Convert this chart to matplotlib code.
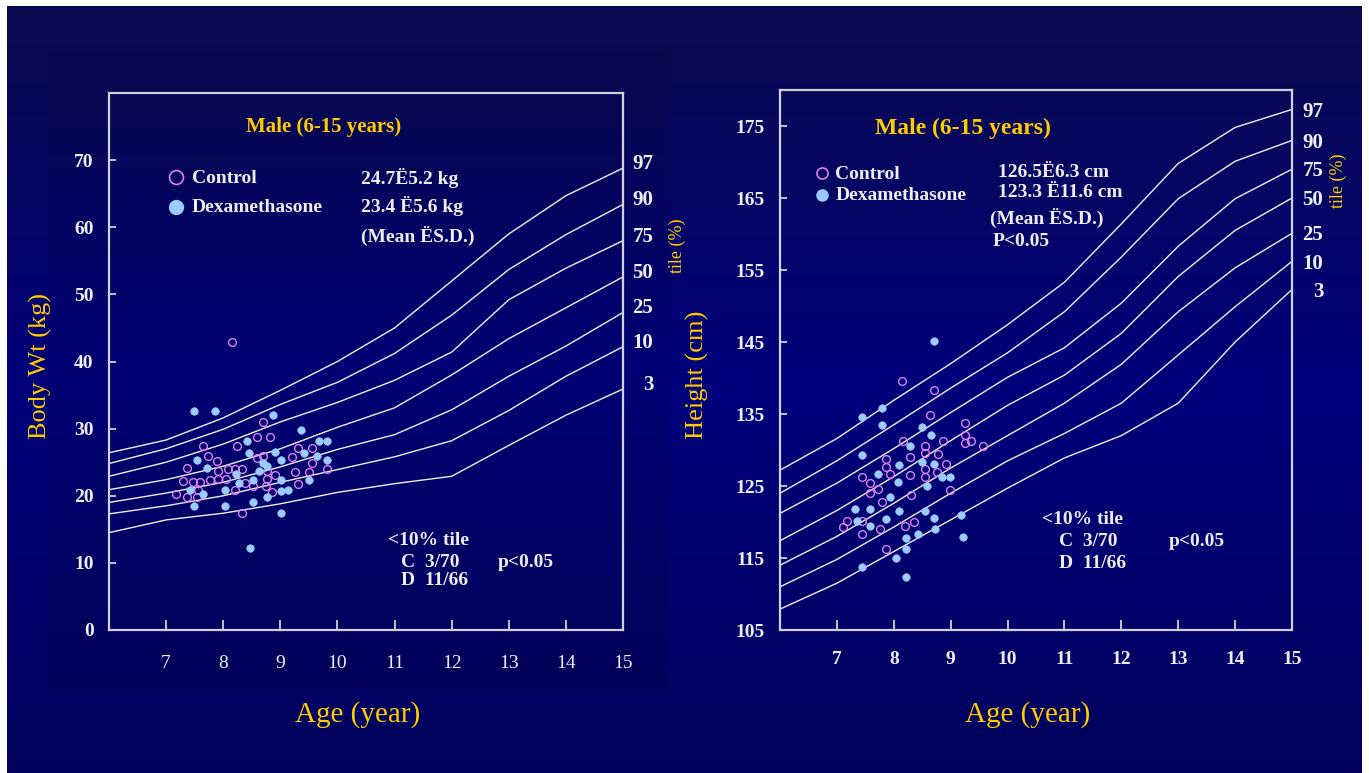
import numpy as np
import matplotlib
matplotlib.use("Agg")
import matplotlib.pyplot as plt

plt.rcParams['font.family'] = ['Liberation Serif', 'DejaVu Serif']

W, H = 1369, 773

# percentile curves (age in years)
ages = [6, 7, 8, 9, 10, 11, 12, 13, 14, 15]
pct_names = ['3', '10', '25', '50', '75', '90', '97']

wt_p3 = [14.5, 16.4, 17.4, 18.8, 20.5, 21.8, 22.9, 27.5, 32.0, 35.9]
wt_p10 = [17.3, 18.5, 20.0, 22.0, 23.9, 25.8, 28.2, 32.7, 37.8, 42.2]
wt_p25 = [19.0, 20.4, 22.0, 24.3, 26.9, 29.1, 32.8, 37.8, 42.3, 47.3]
wt_p50 = [20.9, 22.4, 24.4, 27.0, 30.2, 33.1, 38.0, 43.4, 48.0, 52.6]
wt_p75 = [22.9, 25.0, 27.7, 31.0, 33.9, 37.2, 41.4, 49.2, 53.9, 58.0]
wt_p90 = [24.8, 27.0, 29.9, 33.6, 36.9, 41.2, 46.9, 53.7, 58.9, 63.4]
wt_p97 = [26.4, 28.3, 31.6, 35.7, 40.0, 45.0, 52.0, 59.0, 64.7, 68.8]

ht_p3 = [107.9, 111.5, 115.9, 120.3, 124.7, 128.9, 132.0, 136.5, 145.0, 152.3]
ht_p10 = [111.0, 114.8, 119.3, 124.0, 128.5, 132.3, 136.5, 143.2, 149.9, 156.2]
ht_p25 = [114.0, 118.0, 122.6, 127.5, 132.0, 136.5, 141.9, 149.2, 155.3, 160.1]
ht_p50 = [117.4, 121.6, 126.3, 131.3, 136.2, 140.4, 146.2, 154.1, 160.5, 165.0]
ht_p75 = [121.2, 125.4, 130.2, 135.2, 140.1, 144.2, 150.4, 158.3, 164.9, 169.0]
ht_p90 = [124.0, 128.5, 133.5, 138.6, 143.5, 149.2, 156.8, 164.9, 170.1, 173.0]
ht_p97 = [127.2, 131.6, 136.9, 142.0, 147.4, 153.3, 161.4, 169.8, 174.8, 177.3]

# body weight scatter
wt_ctrl_age = [8.15, 8.70, 8.60, 8.82, 7.65, 8.24, 7.73, 7.89, 7.36, 8.59, 8.70, 8.09,
               8.21, 8.33, 7.90, 8.76, 9.31, 9.55, 9.20, 9.56, 9.25, 9.50, 9.81, 7.29,
               7.47, 7.59, 7.77, 7.90, 8.04, 8.76, 8.90, 8.38, 8.52, 8.75, 9.31, 7.17,
               7.36, 7.54, 7.55, 8.21, 8.86, 8.33]
wt_ctrl = [42.9, 31.0, 28.7, 28.7, 27.4, 27.4, 25.9, 25.2, 24.1, 25.6, 25.9, 24.0,
           24.0, 24.0, 23.7, 23.7, 27.1, 27.1, 25.8, 24.9, 23.6, 23.6, 24.0, 22.2,
           22.0, 22.0, 22.3, 22.5, 22.5, 22.5, 23.1, 21.9, 21.4, 21.5, 21.8, 20.3,
           19.8, 19.8, 20.8, 20.8, 20.6, 17.4]
wt_dex_age = [7.48, 7.85, 8.88, 9.37, 8.41, 9.68, 9.81, 8.46, 8.90, 9.42, 9.64, 7.54,
              9.01, 8.69, 8.77, 9.81, 7.72, 8.63, 8.22, 9.01, 8.52, 9.50, 8.27, 7.42,
              7.65, 8.03, 9.01, 9.13, 7.48, 8.03, 8.53, 8.76, 9.02, 8.47]
wt_dex = [32.6, 32.6, 32.0, 29.8, 28.1, 28.1, 28.1, 26.3, 26.5, 26.3, 25.9, 25.4,
          25.3, 24.9, 24.5, 25.4, 24.2, 23.7, 23.2, 22.4, 22.4, 22.4, 21.9, 20.9,
          20.3, 20.8, 20.7, 20.8, 18.5, 18.5, 19.1, 19.8, 17.4, 12.2]

# height scatter
ht_ctrl_age = [8.15, 8.70, 8.64, 9.26, 9.26, 9.26, 9.35, 9.56, 8.17, 8.86, 8.55, 8.55,
               8.77, 7.87, 8.28, 8.91, 7.87, 7.93, 8.28, 8.55, 8.76, 8.55, 7.45, 8.99,
               7.58, 7.72, 7.59, 8.31, 7.80, 7.18, 7.10, 7.45, 7.45, 7.76, 8.20, 8.36,
               7.87]
ht_ctrl = [139.6, 138.4, 134.9, 133.8, 132.1, 131.0, 131.2, 130.6, 131.2, 131.2, 130.6, 129.6,
           129.5, 128.8, 129.0, 128.1, 127.7, 126.6, 126.5, 127.3, 127.0, 126.2, 126.2, 124.5,
           125.4, 124.6, 124.0, 123.8, 122.8, 120.2, 119.3, 120.1, 118.4, 119.0, 119.5, 120.0,
           116.2]
ht_dex_age = [8.70, 7.80, 7.44, 7.80, 8.50, 8.66, 7.45, 8.28, 8.10, 8.50, 8.70, 7.73,
              8.07, 8.84, 8.98, 8.58, 7.93, 7.31, 7.59, 8.10, 8.55, 7.35, 7.59, 7.87,
              8.70, 8.72, 8.22, 8.42, 9.19, 9.21, 8.22, 8.04, 7.45, 8.22]
ht_dex = [145.1, 135.9, 134.6, 133.5, 133.2, 132.1, 129.3, 130.5, 127.9, 128.4, 128.1, 126.7,
          125.6, 126.2, 126.2, 125.0, 123.5, 121.8, 121.8, 121.5, 121.5, 120.1, 119.5, 120.4,
          120.5, 119.0, 117.8, 118.4, 121.0, 117.9, 116.2, 115.0, 113.7, 112.3]

YELLOW = '#FFCC00'
WHITE = '#EEEEF2'
SPINE = '#D0D0DC'
CTRL = '#E080EE'
DEX = '#9CCCFF'

fig = plt.figure(figsize=(W / 100, H / 100), dpi=100)
fig.patch.set_facecolor('white')

# background gradient
bg = fig.add_axes([0, 0, 1, 1], zorder=-10)
bg.set_xlim(0, W)
bg.set_ylim(H, 0)
bg.axis('off')


def vgrad(top, mid, bot, n=256):
    t = np.linspace(0, 1, n)[:, None]
    top, mid, bot = [np.array(c) / 255 for c in (top, mid, bot)]
    a = np.where(t < 0.5, top + (mid - top) * (t / 0.5), mid + (bot - mid) * ((t - 0.5) / 0.5))
    return a.reshape(n, 1, 3)


bg.imshow(vgrad((10, 10, 78), (0, 0, 124), (0, 0, 92)),
          extent=[7, 1362, 773, 6], aspect='auto', zorder=0)
for x0, x1, y0, y1 in [(48, 668, 50, 688)]:
    bg.imshow(vgrad((8, 8, 76), (0, 0, 116), (0, 0, 88)),
              extent=[x0, x1, y1, y0], aspect='auto', zorder=1)


def style_axes(ax, xlab_bold):
    ax.set_facecolor('none')
    for s in ax.spines.values():
        s.set_color(SPINE)
        s.set_linewidth(1.6)
    ax.tick_params(axis='both', colors=SPINE, direction='in', width=1.3)
    ax.tick_params(axis='x', length=7, pad=18, labelsize=14, labelcolor=WHITE)
    ax.tick_params(axis='y', length=5, pad=11, labelsize=14, labelcolor=WHITE)
    for lab in ax.get_yticklabels():
        lab.set_fontweight('bold')
    for lab in ax.get_xticklabels():
        lab.set_fontweight('bold' if xlab_bold else 'normal')


def draw_panel(ax, curves, ctrl_x, ctrl_y, dex_x, dex_y):
    for c in curves:
        ax.plot(ages, c, color=WHITE, lw=1.0, zorder=2)
    ax.plot(ctrl_x, ctrl_y, 'o', ms=5.6, mfc='none', mec=CTRL, mew=1.0, zorder=3)
    ax.plot(dex_x, dex_y, 'o', ms=5.4, mfc=DEX, mec=DEX, mew=0.5, zorder=4)


bold = dict(color=WHITE, fontweight='bold', fontsize=14, va='center')

# ---------------- left: body weight ----------------
ax1 = fig.add_axes([109 / W, 1 - 630 / H, (623 - 109) / W, (630 - 93) / H])
wt_curves = [wt_p3, wt_p10, wt_p25, wt_p50, wt_p75, wt_p90, wt_p97]
draw_panel(ax1, wt_curves, wt_ctrl_age, wt_ctrl, wt_dex_age, wt_dex)
ax1.set_xlim(6, 15)
ax1.set_ylim(0, 80)
ax1.set_xticks(range(7, 16))
ax1.set_yticks(range(0, 80, 10))
style_axes(ax1, False)
ax1.set_xticklabels([str(v) for v in range(7, 16)], fontweight='normal')

ax1.text(9.75, 75.0, 'Male (6-15 years)', color=YELLOW, fontweight='bold', fontsize=15,
         ha='center', va='center')
ax1.plot([7.17], [67.5], 'o', ms=10, mfc='none', mec=CTRL, mew=1.2, clip_on=False)
ax1.plot([7.17], [63.0], 'o', ms=10, mfc=DEX, mec=DEX, clip_on=False)
ax1.text(7.45, 67.3, 'Control', **bold)
ax1.text(7.45, 62.9, 'Dexamethasone', **bold)
ax1.text(10.41, 67.3, '24.7\u00cb5.2 kg', **bold)
ax1.text(10.41, 63.2, '23.4 \u00cb5.6 kg', **bold)
ax1.text(10.41, 58.7, '(Mean \u00cbS.D.)', **bold)
ax1.text(10.89, 13.4, '<10% tile', **bold)
ax1.text(11.11, 10.1, 'C  3/70', **bold)
ax1.text(11.11, 7.4, 'D  11/66', **bold)
ax1.text(12.81, 10.1, 'p<0.05', **bold)
for name, c in zip(pct_names, wt_curves):
    ax1.text(15.53, c[-1] + 0.6, name, color=WHITE, fontweight='bold', fontsize=15,
             ha='right', va='center', clip_on=False)
ax1.text(15.95, 57.2, 'tile (%)', color=YELLOW, fontsize=13, rotation=90,
         ha='center', va='center', clip_on=False)

# ---------------- right: height ----------------
ax2 = fig.add_axes([780 / W, 1 - 630 / H, (1292 - 780) / W, (630 - 90) / H])
ht_curves = [ht_p3, ht_p10, ht_p25, ht_p50, ht_p75, ht_p90, ht_p97]
draw_panel(ax2, ht_curves, ht_ctrl_age, ht_ctrl, ht_dex_age, ht_dex)
ax2.set_xlim(6, 15)
ax2.set_ylim(105, 180)
ax2.set_xticks(range(7, 16))
ax2.set_yticks(range(105, 180, 10))
style_axes(ax2, True)
ax2.tick_params(axis='x', pad=15)

ax2.text(9.22, 174.7, 'Male (6-15 years)', color=YELLOW, fontweight='bold', fontsize=17,
         ha='center', va='center')
ax2.plot([6.74], [168.5], 'o', ms=8, mfc='none', mec=CTRL, mew=1.2, clip_on=False)
ax2.plot([6.74], [165.4], 'o', ms=8, mfc=DEX, mec=DEX, clip_on=False)
ax2.text(6.97, 168.2, 'Control', **bold)
ax2.text(6.97, 165.4, 'Dexamethasone', **bold)
ax2.text(9.83, 168.5, '126.5\u00cb6.3 cm', **bold)
ax2.text(9.83, 165.7, '123.3 \u00cb11.6 cm', **bold)
ax2.text(9.69, 162.2, '(Mean \u00cbS.D.)', **bold)
ax2.text(9.73, 158.9, 'P<0.05', **bold)
ax2.text(10.60, 120.3, '<10% tile', **bold)
ax2.text(10.90, 117.3, 'C  3/70', **bold)
ax2.text(10.90, 114.3, 'D  11/66', **bold)
ax2.text(12.84, 117.3, 'p<0.05', **bold)
for name, c in zip(pct_names, ht_curves):
    ax2.text(15.55, c[-1] - 0.3, name, color=WHITE, fontweight='bold', fontsize=15,
             ha='right', va='center', clip_on=False)
ax2.text(15.81, 167.4, 'tile (%)', color=YELLOW, fontsize=13, rotation=90,
         ha='center', va='center', clip_on=False)

# axis titles
fig.text(40 / W, 1 - 366 / H, 'Body Wt (kg)', color=YELLOW, fontsize=19, rotation=90,
         ha='center', va='center')
fig.text(697 / W, 1 - 375 / H, 'Height (cm)', color=YELLOW, fontsize=19, rotation=90,
         ha='center', va='center')
fig.text(358 / W, 1 - 715 / H, 'Age (year)', color=YELLOW, fontsize=21,
         ha='center', va='center')
fig.text(1028 / W, 1 - 715 / H, 'Age (year)', color=YELLOW, fontsize=21,
         ha='center', va='center')

fig.savefig('out.png', dpi=100, facecolor=fig.get_facecolor())
